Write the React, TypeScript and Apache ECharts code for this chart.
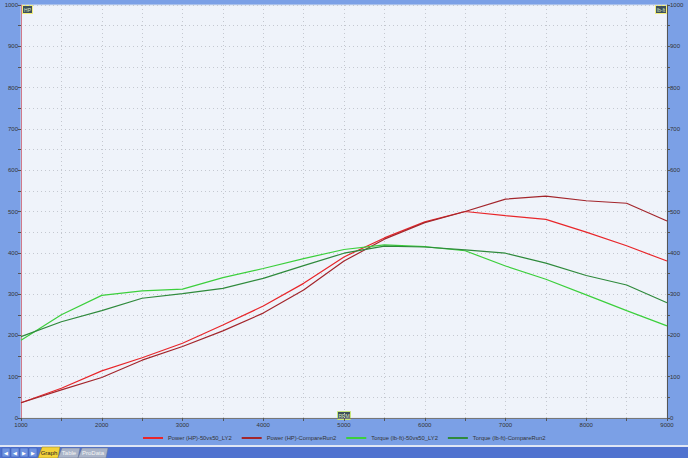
import React, { useEffect, useRef } from "react";
import * as echarts from "echarts";

const rpm = [1000, 1500, 2000, 2500, 3000, 3500, 4000, 4500, 5000, 5500, 6000, 6500, 7000, 7500, 8000, 8500, 9000];
const powerLY2 = [37, 72, 114, 146, 181, 225, 271, 326, 390, 436, 475, 500, 490, 481, 450, 417, 380];
const powerRun2 = [37, 68, 98, 140, 173, 211, 254, 310, 380, 433, 473, 500, 530, 537, 526, 520, 477];
const torqueLY2 = [188, 250, 297, 308, 312, 340, 362, 386, 408, 419, 415, 405, 368, 336, 298, 260, 223];
const torqueRun2 = [197, 233, 260, 290, 301, 314, 338, 369, 399, 416, 414, 407, 399, 375, 345, 322, 279];
const seriesNames = [
  "Power (HP)-50vs50_LY2",
  "Power (HP)-CompareRun2",
  "Torque (lb-ft)-50vs50_LY2",
  "Torque (lb-ft)-CompareRun2",
];
const seriesColors = ["#e8262a", "#a3262c", "#3ccf3c", "#2f8a3c"];

const FONT = "Liberation Sans";

export default function App() {
  const ref = useRef<HTMLDivElement>(null);
  useEffect(() => {
    if (!ref.current) return;
    const chart = echarts.init(ref.current, null, { renderer: "svg" });
    const data = [powerLY2, powerRun2, torqueLY2, torqueRun2];
    const label = { fontSize: 6, color: "#333", fontFamily: FONT };
    const yAxisBase = {
      type: "value",
      min: 0,
      max: 1000,
      interval: 50,
      axisLine: { show: true, lineStyle: { color: "#d07a8a", width: 1 } },
      axisTick: { show: true, length: 3, lineStyle: { color: "#555" } },
      axisLabel: {
        ...label,
        margin: 3,
        formatter: (v: number) => (v % 100 === 0 ? String(v) : ""),
      },
    };
    chart.setOption({
      animation: false,
      backgroundColor: "#7ba0e6",
      grid: {
        left: 21,
        right: 21,
        top: 5,
        bottom: 40,
        show: true,
        backgroundColor: "#eff3fa",
        borderColor: "#d8e0ee",
        borderWidth: 1,
      },
      xAxis: {
        type: "value",
        min: 1000,
        max: 9000,
        interval: 500,
        axisLine: { show: true, lineStyle: { color: "#777" } },
        axisTick: { show: true, length: 3, lineStyle: { color: "#555" } },
        axisLabel: {
          ...label,
          margin: 4,
          formatter: (v: number) => (v % 1000 === 0 ? String(v) : ""),
        },
        splitLine: { show: true, lineStyle: { color: "#c4c8d0", type: [1, 3] } },
      },
      yAxis: [
        {
          ...yAxisBase,
          position: "left",
          splitLine: { show: true, lineStyle: { color: "#c4c8d0", type: [1, 3] } },
        },
        {
          ...yAxisBase,
          position: "right",
          axisLine: { show: true, lineStyle: { color: "#555", width: 1 } },
          splitLine: { show: false },
        },
      ],
      legend: {
        left: 143,
        top: 435,
        padding: 0,
        itemWidth: 20,
        itemHeight: 2,
        itemGap: 10,
        icon: "rect",
        textStyle: { fontSize: 5.8, color: "#333", fontFamily: FONT },
        data: seriesNames,
      },
      series: seriesNames.map((name, i) => ({
        name,
        type: "line",
        yAxisIndex: i < 2 ? 0 : 1,
        data: rpm.map((r, j) => [r, data[i][j]]),
        showSymbol: false,
        symbol: "none",
        lineStyle: { color: seriesColors[i], width: 1.2 },
        itemStyle: { color: seriesColors[i] },
      })),
      graphic: [
        // axis name boxes
        {
          type: "group",
          left: 22,
          top: 5,
          children: [
            { type: "rect", shape: { x: 0, y: 0, width: 10, height: 8 }, style: { fill: "#3d4f5a", stroke: "#f4f07a", lineWidth: 1 } },
            { type: "text", x: 5, y: 4, style: { text: "HP", fontSize: 5, fill: "#dfe8c0", align: "center", verticalAlign: "middle", fontFamily: FONT } },
          ],
        },
        {
          type: "group",
          left: 655,
          top: 5,
          children: [
            { type: "rect", shape: { x: 0, y: 0, width: 11, height: 8 }, style: { fill: "#3d4f5a", stroke: "#f4f07a", lineWidth: 1 } },
            { type: "text", x: 5.5, y: 4, style: { text: "lb-ft", fontSize: 5, fill: "#dfe8c0", align: "center", verticalAlign: "middle", fontFamily: FONT } },
          ],
        },
        {
          type: "group",
          left: 337,
          top: 411,
          children: [
            { type: "rect", shape: { x: 0, y: 0, width: 13, height: 8 }, style: { fill: "#3d4f5a", stroke: "#c8e87a", lineWidth: 1 } },
            { type: "text", x: 6.5, y: 4, style: { text: "RPM", fontSize: 5, fill: "#dfe8c0", align: "center", verticalAlign: "middle", fontFamily: FONT } },
          ],
        },
        // bottom tab bar
        { type: "rect", shape: { x: 0, y: 445, width: 688, height: 2 }, style: { fill: "#dfe6f5" } },
        { type: "rect", shape: { x: 0, y: 447, width: 688, height: 11 }, style: { fill: "#4f72cf" } },
        ...[0, 1, 2, 3].map((k) => ({
          type: "rect",
          shape: { x: 2 + k * 9, y: 448, width: 8, height: 9 },
          style: { fill: "#6f93e0", stroke: "#3a58b0", lineWidth: 0.5 },
        })),
        ...["◀", "◀", "▶", "▶"].map((t, k) => ({
          type: "text",
          x: 6 + k * 9,
          y: 452.5,
          style: { text: t, fontSize: 5, fill: "#ffffff", align: "center", verticalAlign: "middle" },
        })),
        { type: "polygon", shape: { points: [[38, 458], [42, 447], [60, 447], [58, 458]] }, style: { fill: "#f3d23a", stroke: "#8a7a20", lineWidth: 0.5 } },
        { type: "text", x: 49, y: 452.5, style: { text: "Graph", fontSize: 6, fill: "#222", align: "center", verticalAlign: "middle", fontFamily: FONT } },
        { type: "polygon", shape: { points: [[58, 458], [62, 448], [80, 448], [78, 458]] }, style: { fill: "#aab4c8", stroke: "#6a7490", lineWidth: 0.5 } },
        { type: "text", x: 69, y: 453, style: { text: "Table", fontSize: 6, fill: "#f4f4f4", align: "center", verticalAlign: "middle", fontFamily: FONT } },
        { type: "polygon", shape: { points: [[78, 458], [82, 448], [108, 448], [106, 458]] }, style: { fill: "#aab4c8", stroke: "#6a7490", lineWidth: 0.5 } },
        { type: "text", x: 93, y: 453, style: { text: "ProData", fontSize: 6, fill: "#f4f4f4", align: "center", verticalAlign: "middle", fontFamily: FONT } },
      ],
    });
    return () => chart.dispose();
  }, []);
  return (
    <div
      ref={ref}
      style={{ width: 688, height: 458, position: "absolute", left: 0, top: 0 }}
    />
  );
}
